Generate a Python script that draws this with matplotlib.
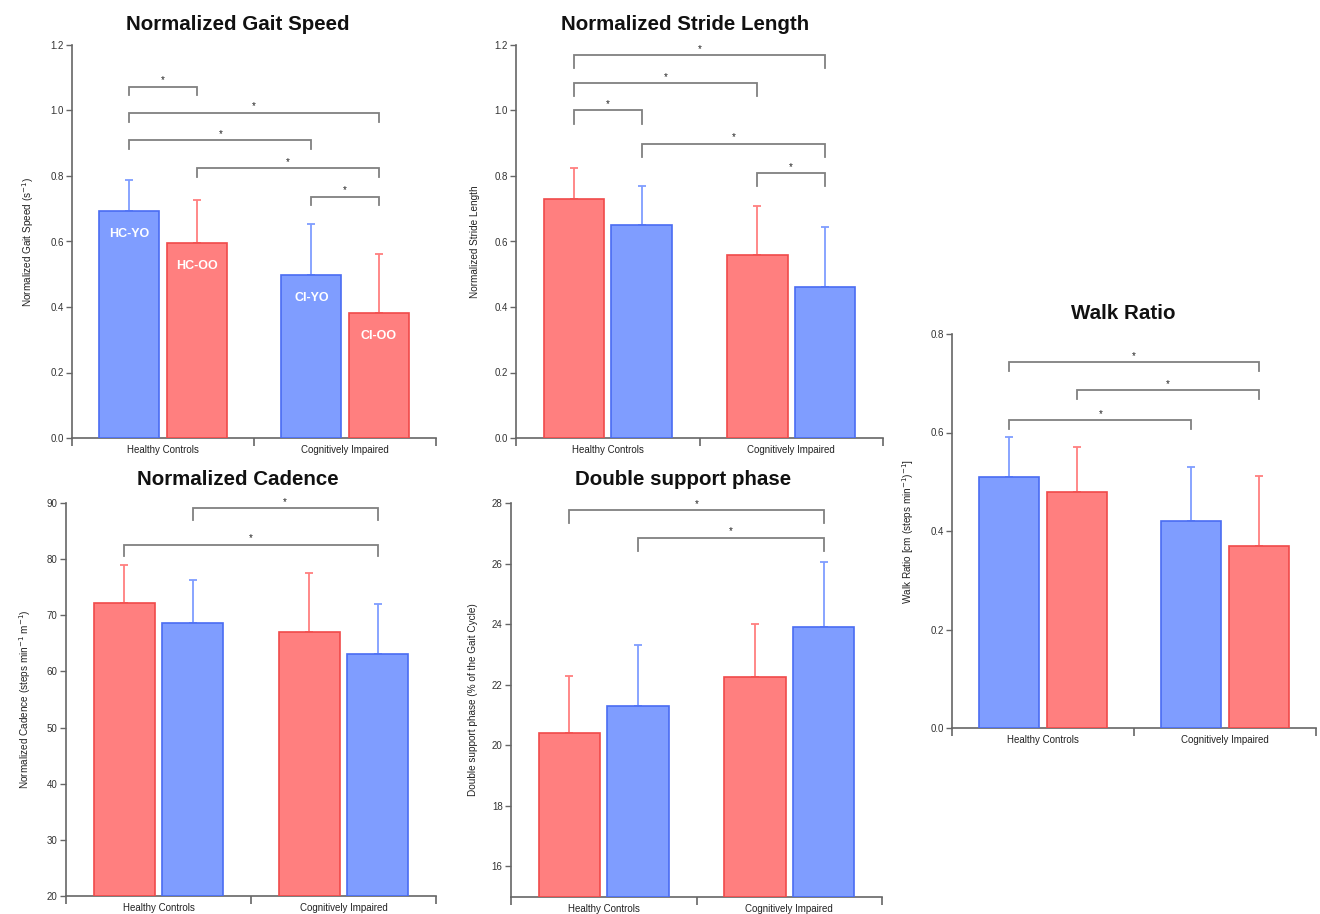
import matplotlib
matplotlib.use("Agg")
import matplotlib.pyplot as plt
import numpy as np

plt.rcParams['font.family'] = ['Liberation Sans', 'DejaVu Sans']

# ---------------- data ----------------
groups = ["Healthy Controls", "Cognitively Impaired"]

gait_mean = [0.693, 0.595, 0.498, 0.382]
gait_sd = [0.095, 0.132, 0.155, 0.180]
gait_col = ["b", "r", "b", "r"]
gait_names = ["HC-YO", "HC-OO", "CI-YO", "CI-OO"]
gait_sig = [(0, 1, 1.073), (0, 3, 0.993), (0, 2, 0.910), (1, 3, 0.824), (2, 3, 0.737)]

stride_mean = [0.731, 0.651, 0.559, 0.461]
stride_sd = [0.094, 0.119, 0.150, 0.183]
stride_col = ["r", "b", "r", "b"]
stride_sig = [(0, 3, 1.169), (0, 2, 1.083), (0, 1, 1.000), (1, 3, 0.898), (2, 3, 0.809)]

walk_mean = [0.510, 0.479, 0.420, 0.370]
walk_sd = [0.081, 0.092, 0.110, 0.141]
walk_col = ["b", "r", "b", "r"]
walk_sig = [(0, 3, 0.743), (1, 3, 0.686), (0, 2, 0.625)]

cad_mean = [72.2, 68.7, 67.1, 63.1]
cad_sd = [6.7, 7.6, 10.5, 8.9]
cad_col = ["r", "b", "r", "b"]
cad_sig = [(1, 3, 89.1), (0, 3, 82.6)]

dsp_mean = [20.39, 21.29, 22.24, 23.92]
dsp_sd = [1.91, 2.01, 1.76, 2.13]
dsp_col = ["r", "b", "r", "b"]
dsp_sig = [(0, 3, 27.76), (1, 3, 26.85)]

# ---------------- style ----------------
FILL = {"b": "#7f9dff", "r": "#ff7f7f"}
EDGE = {"b": "#4a6cf2", "r": "#f04a4a"}
ERRC = {"b": "#7f9dff", "r": "#ff7f7f"}
SPINE = "#666666"
W, H = 1320, 914

fig = plt.figure(figsize=(13.2, 9.14), dpi=100)


def make_ax(x0, x1, y0, y1):
    return fig.add_axes([x0 / W, 1 - y1 / H, (x1 - x0) / W, (y1 - y0) / H])


def panel(ax, means, sds, cols, sig, leg, ylim, yticks, fmt, title, ylabel,
          title_x, title_pad, labelpad, names=None):
    xs = np.array([-0.185, 0.185, 1 - 0.185, 1 + 0.185])
    for i, (m, s, c) in enumerate(zip(means, sds, cols)):
        ax.bar(xs[i], m - ylim[0], bottom=ylim[0], width=0.33,
               color=FILL[c], edgecolor=EDGE[c], linewidth=1.2, zorder=3)
        ax.errorbar(xs[i], m, yerr=[[0], [s]], fmt="none", ecolor=ERRC[c],
                    elinewidth=1.3, capsize=3, capthick=1.3, zorder=2)
        if names is not None:
            ax.annotate(names[i], (xs[i], m), xytext=(0, -16.5),
                        textcoords="offset points", ha="center", va="center",
                        color="white", fontsize=9, fontweight="bold", zorder=4)
    for a, b, h in sig:
        ax.plot([xs[a], xs[a], xs[b], xs[b]], [h - leg, h, h, h - leg],
                color="#808080", lw=1.3, zorder=2, solid_joinstyle="miter")
        ax.annotate("*", ((xs[a] + xs[b]) / 2, h), xytext=(0, 1),
                    textcoords="offset points", ha="center", va="bottom",
                    fontsize=7, color="#222222")
    ax.set_xlim(-0.5, 1.5)
    ax.set_ylim(*ylim)
    ax.set_yticks(yticks)
    ax.set_yticklabels([fmt.format(v) for v in yticks])
    ax.set_xticks([0, 1])
    ax.set_xticklabels(groups)
    ax.set_xticks([-0.5, 0.5, 1.5], minor=True)
    ax.tick_params(axis="x", which="major", length=0, pad=5, labelsize=7,
                   labelcolor="#222222")
    ax.tick_params(axis="x", which="minor", length=6, width=1.2, color=SPINE,
                   direction="out")
    ax.tick_params(axis="y", length=4, width=1.0, color=SPINE, labelsize=7,
                   labelcolor="#333333", pad=2)
    for sp in ["top", "right"]:
        ax.spines[sp].set_visible(False)
    for sp in ["left", "bottom"]:
        ax.spines[sp].set_color(SPINE)
        ax.spines[sp].set_linewidth(1.2)
    ax.set_title(title, fontsize=14.8, fontweight="bold", x=title_x,
                 pad=title_pad, color="#111111")
    ax.set_ylabel(ylabel, fontsize=7.2, labelpad=labelpad, color="#222222")


ax1 = make_ax(72, 436, 45, 438)
panel(ax1, gait_mean, gait_sd, gait_col, gait_sig, 0.027, (0, 1.2),
      [0, 0.2, 0.4, 0.6, 0.8, 1.0, 1.2], "{:.1f}", "Normalized Gait Speed",
      "Normalized Gait Speed (s$^{-1}$)", 0.455, 11, 10, names=gait_names)

ax2 = make_ax(516, 883, 45, 438)
panel(ax2, stride_mean, stride_sd, stride_col, stride_sig, 0.04, (0, 1.2),
      [0, 0.2, 0.4, 0.6, 0.8, 1.0, 1.2], "{:.1f}", "Normalized Stride Length",
      "Normalized Stride Length", 0.46, 11, 10)

ax3 = make_ax(952, 1316, 334, 728)
panel(ax3, walk_mean, walk_sd, walk_col, walk_sig, 0.018, (0, 0.8),
      [0, 0.2, 0.4, 0.6, 0.8], "{:.1f}", "Walk Ratio",
      "Walk Ratio [cm (steps min$^{-1}$)$^{-1}$]", 0.47, 11, 10)

ax4 = make_ax(66, 436, 503, 896)
panel(ax4, cad_mean, cad_sd, cad_col, cad_sig, 2.1, (20, 90),
      [20, 30, 40, 50, 60, 70, 80, 90], "{:d}", "Normalized Cadence",
      "Normalized Cadence (steps min$^{-1}$ m$^{-1}$)", 0.465, 13, 10)

ax5 = make_ax(511, 882, 503, 896.7)
panel(ax5, dsp_mean, dsp_sd, dsp_col, dsp_sig, 0.42, (15, 28),
      [16, 18, 20, 22, 24, 26, 28], "{:d}", "Double support phase",
      "Double support phase (% of the Gait Cycle)", 0.465, 13, 10)

fig.savefig("out.png", dpi=100, facecolor="white")
